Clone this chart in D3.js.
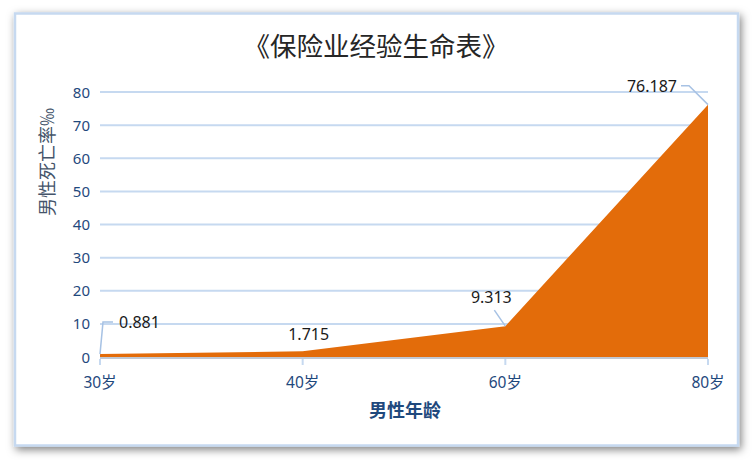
<!DOCTYPE html>
<html>
<head>
<meta charset="utf-8">
<script src="https://cdn.jsdelivr.net/npm/d3@7"></script>
<style>
  body { margin: 0; background: #fff; }
  svg { display: block; }
</style>
</head>
<body>
<svg id="chart"></svg>
<script>
// chart data
const categories = ["30岁", "40岁", "60岁", "80岁"];
const deathRates = [0.881, 1.715, 9.313, 76.187];
const yTicks = [0, 10, 20, 30, 40, 50, 60, 70, 80];
const titleText = "《保险业经验生命表》";
const xTitle = "男性年龄";
const yTitle = "男性死亡率‰";

const width = 753, height = 460;
const margin = { top: 92, right: 45, bottom: 103, left: 100 };
const innerW = width - margin.left - margin.right;
const innerH = height - margin.top - margin.bottom;

const svg = d3.select("#chart")
  .attr("width", width)
  .attr("height", height);

// Shadow for the outer frame
const defs = svg.append("defs");
const shadow = defs.append("filter").attr("id", "shadow")
  .attr("x", "-5%").attr("y", "-5%").attr("width", "110%").attr("height", "115%");
shadow.append("feDropShadow")
  .attr("dx", 2).attr("dy", 3)
  .attr("stdDeviation", 4)
  .attr("flood-color", "#000")
  .attr("flood-opacity", 0.5);

svg.append("rect")
  .attr("x", 15).attr("y", 13.5)
  .attr("width", 723).attr("height", 432)
  .attr("fill", "#fff")
  .attr("stroke", "#c6d9f0")
  .attr("stroke-width", 2.5)
  .attr("filter", "url(#shadow)");

const g = svg.append("g")
  .attr("transform", `translate(${margin.left},${margin.top})`);

// Scales
const x = d3.scalePoint()
  .domain(categories)
  .range([0, innerW]);

const y = d3.scaleLinear()
  .domain([0, 80])
  .range([innerH, 0]);

// Gridlines
g.append("g")
  .selectAll("line")
  .data(yTicks.filter(d => d > 0))
  .enter()
  .append("line")
  .attr("x1", 0)
  .attr("x2", innerW)
  .attr("y1", d => y(d))
  .attr("y2", d => y(d))
  .attr("stroke", "#c6d9f0")
  .attr("stroke-width", 2);

// Area
const area = d3.area()
  .x((d, i) => x(categories[i]))
  .y0(y(0))
  .y1(d => y(d));

g.append("path")
  .datum(deathRates)
  .attr("fill", "#e36c0a")
  .attr("d", area);

// X axis line and ticks
g.append("line")
  .attr("x1", 0).attr("x2", innerW)
  .attr("y1", y(0) + 1).attr("y2", y(0) + 1)
  .attr("stroke", "#c0c8d4")
  .attr("stroke-width", 2);

g.selectAll(".x-tick")
  .data(categories)
  .enter()
  .append("line")
  .attr("class", "x-tick")
  .attr("x1", d => x(d)).attr("x2", d => x(d))
  .attr("y1", y(0) + 2).attr("y2", y(0) + 8)
  .attr("stroke", "#c6d9f0")
  .attr("stroke-width", 2);

// X labels
g.selectAll(".x-label")
  .data(categories)
  .enter()
  .append("text")
  .attr("class", "x-label")
  .attr("x", d => x(d))
  .attr("y", y(0) + 31)
  .attr("text-anchor", "middle")
  .attr("fill", "#1f497d")
  .style("font-family", "'Noto Sans', 'Noto Sans CJK SC', sans-serif")
  .style("font-size", "15.5px")
  .text(d => d);

// Y labels
g.selectAll(".y-label")
  .data(yTicks)
  .enter()
  .append("text")
  .attr("class", "y-label")
  .attr("x", -10)
  .attr("y", d => y(d) + 5.5)
  .attr("text-anchor", "end")
  .attr("fill", "#1f497d")
  .style("font-family", "'Noto Sans', sans-serif")
  .style("font-size", "15px")
  .text(d => d);

// Data labels with leader lines
const labelStyle = sel => sel
  .attr("fill", "#1a1a1a")
  .style("font-family", "'Noto Sans', sans-serif")
  .style("font-size", "16px");

const px = i => x(categories[i]);
const py = i => y(deathRates[i]);

const leader = d3.line();
const leaders = [
  [[px(0), py(0)], [px(0) + 3, py(0) - 32], [px(0) + 13, py(0) - 32]],
  [[px(2), py(2)], [px(2) - 11, py(2) - 16]],
  [[px(3), py(3)], [px(3) - 19, py(3) - 19], [px(3) - 27, py(3) - 19]]
];
g.selectAll(".leader")
  .data(leaders)
  .enter()
  .append("path")
  .attr("class", "leader")
  .attr("d", d => leader(d))
  .attr("fill", "none")
  .attr("stroke", "#a7c2e4")
  .attr("stroke-width", 1.5);

g.append("text").call(labelStyle)
  .attr("x", px(0) + 19).attr("y", py(0) - 26)
  .text(deathRates[0]);
g.append("text").call(labelStyle)
  .attr("x", px(1) + 6).attr("y", py(1) - 11)
  .attr("text-anchor", "middle")
  .text(deathRates[1]);
g.append("text").call(labelStyle)
  .attr("x", px(2) - 14).attr("y", py(2) - 23)
  .attr("text-anchor", "middle")
  .text(deathRates[2]);
g.append("text").call(labelStyle)
  .attr("x", px(3) - 31).attr("y", py(3) - 13)
  .attr("text-anchor", "end")
  .text(deathRates[3]);

// Title
svg.append("text")
  .attr("x", 376)
  .attr("y", 56)
  .attr("text-anchor", "middle")
  .attr("fill", "#262626")
  .style("font-family", "'Noto Sans CJK SC', sans-serif")
  .style("font-size", "26.5px")
  .text(titleText);

// Axis titles
svg.append("text")
  .attr("x", 405)
  .attr("y", 417)
  .attr("text-anchor", "middle")
  .attr("fill", "#1f497d")
  .style("font-family", "'Noto Sans CJK SC', sans-serif")
  .style("font-weight", "bold")
  .style("font-size", "18px")
  .text(xTitle);

svg.append("text")
  .attr("transform", "translate(54,162) rotate(-90)")
  .attr("text-anchor", "middle")
  .attr("fill", "#44546a")
  .style("font-family", "'Noto Sans CJK SC', sans-serif")
  .style("font-size", "18px")
  .text(yTitle);
</script>
</body>
</html>
